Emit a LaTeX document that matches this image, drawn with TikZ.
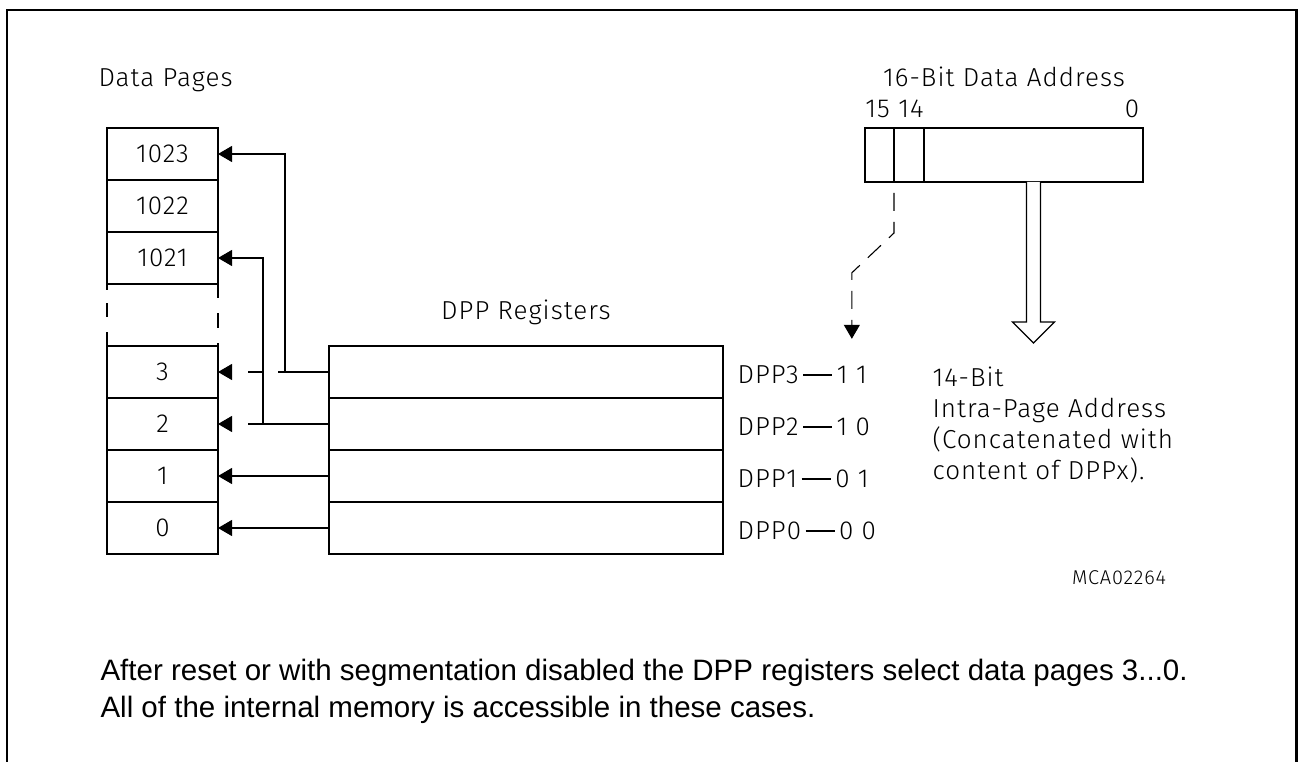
\documentclass[tikz,border=0pt]{standalone}
\usepackage{fontspec}
\usetikzlibrary{arrows.meta,positioning}
\newfontfamily\din[LetterSpace=4]{Fira Sans Light}
\newfontfamily\arial{Liberation Sans}
\tikzset{
    lbl/.style={font=\din\fontsize{26}{31}\selectfont, inner sep=0pt},
    page/.style={draw, lbl, minimum width=111pt, minimum height=52pt, outer sep=0pt},
    reg/.style={draw, minimum width=394pt, minimum height=52pt, outer sep=0pt},
    addrbox/.style={draw, minimum height=54pt, inner sep=0pt, outer sep=0pt},
    sel/.style={dash pattern=on 18pt off 11pt, dash phase=18pt},
    note/.style={font=\arial\fontsize{29.5}{37}\selectfont, inner sep=0pt}
}
\begin{document}
\begin{tikzpicture}[x=1pt, y=-1pt, line width=1.1pt, >={Triangle[length=14pt,width=16pt]}]
    \useasboundingbox (0,0) rectangle (1298,762);
    \draw[line width=2.2pt] (7,762)--(7,10)--(1296.5,10)--(1296.5,762);

    \node[lbl, anchor=base west] (dpages) at (98,87) {Data Pages};
\foreach \n/\y in {1023/154,1022/206,1021/258,3/372,2/424,1/476,0/528}
{
    \node[page] (p\n) at (162.5,\y) {\n};
}
    \draw[dash pattern=on 6pt off 13pt on 14pt off 15pt on 14pt] (p1021.south west)--(p3.north west);
    \draw[dash pattern=on 14pt off 15pt on 15pt off 15pt on 3pt] (p1021.south east)--(p3.north east);

    \node[lbl, anchor=base] (dppreg) at (526,319) {DPP Registers};
\foreach \r/\y/\b in {3/372/1 1,2/424/1 0,1/476/0 1,0/528/0 0}
{
    \node[reg] (r\r) at (526,\y) {};
    \node[lbl, anchor=west, inner sep=4pt] (dpp\r) at (733,\y+3) {DPP\r};
    \node[lbl, inner sep=4pt, right=29pt of dpp\r] (bits\r) {\b};
    \draw (dpp\r)--(bits\r);
}
    \draw[->] (r1.west)--(p1.east);
    \draw[->] (r0.west)--(p0.east);
    \draw[->, dash pattern=on 81pt off 30pt] (r2.west)--(p2.east);
    \draw[->, dash pattern=on 51pt off 15pt on 15pt off 30pt] (r3.west)--(p3.east);
    \draw[->] ([xshift=-44pt]r3.west) |- (p1023.east);
    \draw[->] ([xshift=-66pt]r2.west) |- (p1021.east);

    \node[lbl, anchor=base] (title) at (1004,87) {16-Bit Data Address};
    \node[addrbox, minimum width=29pt] (b15) at (879.5,155) {};
    \node[addrbox, minimum width=30pt, right=0pt of b15] (b14) {};
    \node[addrbox, minimum width=219pt, right=0pt of b14] (blow) {};
    \node[lbl, above=10pt] (n15) at ([xshift=-2pt]b15.north) {15};
    \node[lbl, above=10pt] (n14) at ([xshift=2pt]b14.north) {14};
    \node[lbl, above=10pt] (n0) at ([xshift=-11pt]blow.north east) {0};

    \draw[fill=white] ([xshift=-7pt]blow.south)--++(0,140)--++(-14,0)--++(21,21)--++(21,-21)--++(-14,0)--++(0,-140);
    \draw[->, sel] (b15.south east)--++(0,51)--([yshift=89pt]bits3.north)--([yshift=23pt]bits3.north);

    \node[lbl, anchor=north west, align=left] (intra) at (932,366) {14-Bit\\Intra-Page Address\\(Concatenated with\\content of DPPx).};
    \node[lbl, font=\din\fontsize{20}{24}\selectfont] (mca) at (1119,578) {MCA02264};

    \node[note, anchor=base west] (note1) at (100,680) {After reset or with segmentation disabled the DPP registers select data pages 3...0.};
    \node[note, anchor=base west] (note2) at ([yshift=-37pt]note1.base west) {All of the internal memory is accessible in these cases.};
\end{tikzpicture}
\end{document}
